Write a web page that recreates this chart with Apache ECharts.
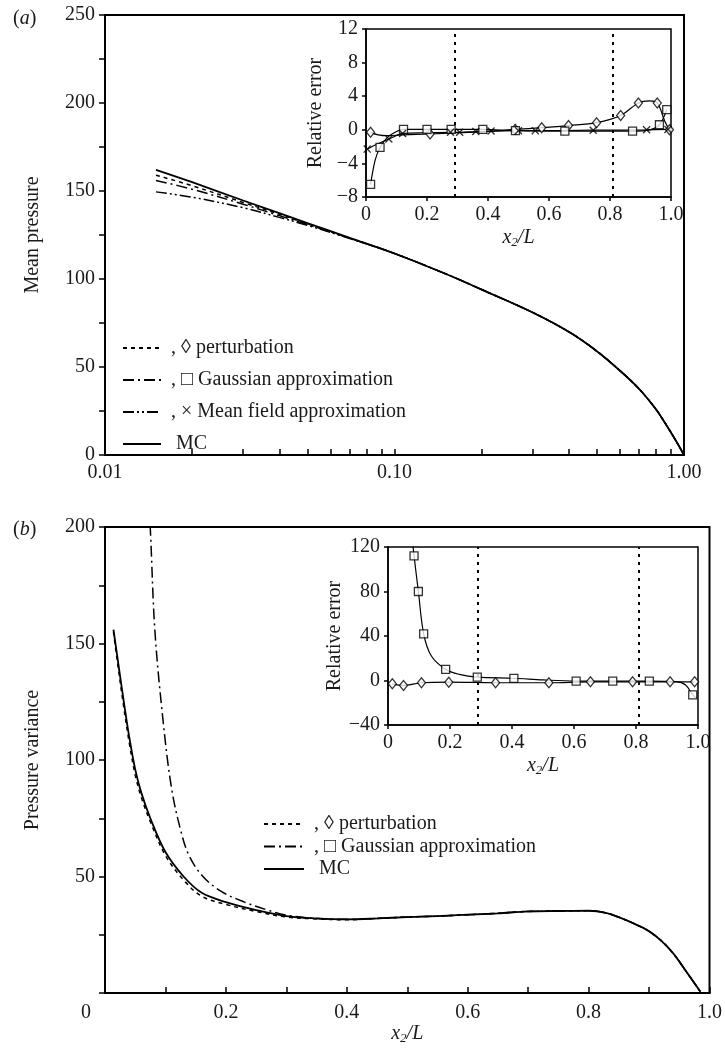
<!DOCTYPE html>
<html><head><meta charset="utf-8">
<script src="https://cdn.jsdelivr.net/npm/echarts@6/dist/echarts.min.js"></script>
<style>html,body{margin:0;padding:0;background:#fff}#c{width:725px;height:1052px}</style>
</head><body><div id="c"></div>
<script>
// ---------- names ----------
const PERT = ', \u25CA perturbation';
const GAUSS = ', \u25A1 Gaussian approximation';
const MEAN = ', \u00D7 Mean field approximation';
const MC = 'MC';

// ---------- panel (a): mean pressure vs x2/L (log x) ----------
const aX      = [0.015,0.02,0.03,0.04,0.05,0.07,0.1,0.155,0.2,0.3,0.4,0.5,0.6,0.7,0.8,0.85,0.9,0.95,1.0];
const aMC     = [162,155,144.6,137.4,131.8,123.4,114.5,102,94,81,70,59,48,37.5,26,19.5,13,6.5,0];
const aPert   = [159,153,143.5,136.8,131.4,123.3,114.5,102,94,81,70,59,48,37.5,26,19.5,13,6.5,0];
const aGauss  = [156,151,142.5,136,131,123.2,114.5,102,94,81,70,59,48,37.5,26,19.5,13,6.5,0];
const aMean   = [149.5,146.5,140.5,135,130.5,123,114.5,102,94,81,70,59,48,37.5,26,19.5,13,6.5,0];
const aTickVals = [0.01,0.02,0.03,0.04,0.05,0.06,0.07,0.08,0.09,0.1,0.2,0.3,0.4,0.5,0.6,0.7,0.8,0.9,1];

// inset (a): relative error
const iaPertCurveX = [0.015,0.04,0.07,0.12,0.21,0.3,0.4,0.489,0.576,0.664,0.756,0.835,0.893,0.93,0.955,0.98,0.995];
const iaPertCurveY = [-0.3,-0.6,-0.7,-0.6,-0.5,-0.35,-0.2,0.05,0.25,0.5,0.85,1.7,3.2,3.45,3.2,1.0,0];
const iaPertMarkX  = [0.015,0.21,0.489,0.576,0.664,0.756,0.835,0.893,0.955,0.995];
const iaPertMarkY  = [-0.3,-0.5,0.05,0.25,0.5,0.85,1.7,3.2,3.2,0];
const iaGaussCurveX = [0.015,0.03,0.046,0.07,0.1,0.123,0.2,0.279,0.383,0.49,0.652,0.874,0.93,0.962,0.986];
const iaGaussCurveY = [-6.5,-3.6,-2.1,-0.9,-0.2,0.05,0.05,0.05,0.05,-0.1,-0.15,-0.15,0.0,0.6,2.4];
const iaGaussMarkX  = [0.015,0.046,0.123,0.2,0.279,0.383,0.49,0.652,0.874,0.962,0.986];
const iaGaussMarkY  = [-6.5,-2.1,0.05,0.05,0.05,0.05,-0.1,-0.15,-0.15,0.6,2.4];
const iaMeanCurveX = [0.004,0.03,0.075,0.12,0.2,0.277,0.307,0.36,0.41,0.5,0.555,0.745,0.92,0.99];
const iaMeanCurveY = [-2.3,-1.8,-1.1,-0.45,-0.35,-0.3,-0.3,-0.2,-0.15,-0.1,-0.1,-0.05,0,0.05];
const iaMeanMarkX  = [0.004,0.075,0.12,0.277,0.307,0.36,0.41,0.5,0.555,0.745,0.92,0.99];
const iaMeanMarkY  = [-2.3,-1.1,-0.45,-0.3,-0.3,-0.2,-0.15,-0.1,-0.1,-0.05,0,0.05];
const insetVLines = [0.295, 0.815];

// ---------- panel (b): pressure variance vs x2/L ----------
const bX    = [0.014,0.02,0.03,0.04,0.05,0.06,0.075,0.1,0.13,0.16,0.2,0.25,0.3,0.35,0.4,0.45,0.5,0.55,0.6,0.65,0.7,0.75,0.8,0.83,0.855,0.88,0.9,0.92,0.94,0.96,0.985];
const bMC   = [156,145,127,110,96,86,75,60.5,50,43,39,35.6,33,32,31.6,32,32.6,33,33.6,34.2,35,35.2,35.3,34.3,32,29.2,26.5,22.5,17,9.8,0.5];
const bPert = [155,143,124.5,107.5,93.5,84,73.5,59,48.5,41.5,38,35,32.6,31.8,31.4,32,32.6,33,33.6,34.2,35,35.2,35.3,34.3,32,29.2,26.5,22.5,17,9.8,0.5];
const bGaussX = [0.072,0.075,0.0824,0.096,0.11,0.125,0.139,0.162,0.193,0.231,0.269,0.3,0.35,0.4,0.45,0.5,0.55,0.6,0.65,0.7,0.75,0.8,0.83,0.855,0.88,0.9,0.92,0.94,0.96,0.985];
const bGauss  = [210,199,156,117,88,70,59,50,43.5,39,35.6,33.4,32,31.6,32,32.6,33,33.6,34.2,35,35.2,35.3,34.3,32,29.2,26.5,22.5,17,9.8,0.5];

// inset (b)
const ibGaussCurveX = [0.079,0.084,0.098,0.115,0.14,0.186,0.23,0.288,0.406,0.5,0.607,0.725,0.843,0.93,0.96,0.983,0.995];
const ibGaussCurveY = [125,112,80,42,22,10,5.5,3,2,0.5,-0.5,-0.5,-0.5,-1,-4,-13,-16];
const ibGaussMarkX  = [0.084,0.098,0.115,0.186,0.288,0.406,0.607,0.725,0.843,0.983];
const ibGaussMarkY  = [112,80,42,10,3,2,-0.5,-0.5,-0.5,-13];
const ibPertCurveX = [0.014,0.05,0.108,0.196,0.347,0.519,0.653,0.789,0.91,0.989];
const ibPertCurveY = [-3,-4.5,-2,-1.5,-2,-2,-1.2,-1.2,-1.2,-1.2];
const ibPertMarkX  = ibPertCurveX;
const ibPertMarkY  = ibPertCurveY;

// ---------- helpers ----------
const zip = (xs, ys) => xs.map((x, i) => [x, ys[i]]);
const F = 'Liberation Serif';
const TXT = '#1a1a1a';
const tstyle = (sz) => ({fontFamily: F, fontSize: sz, color: TXT});
const x2L = '{i|x}{s|2}{i|/L}';
const x2Lrich = {
  i: {fontFamily: F, fontSize: 20, fontStyle: 'italic', color: TXT, lineHeight: 22},
  s: {fontFamily: F, fontSize: 13, fontStyle: 'italic', color: TXT, lineHeight: 8, verticalAlign: 'bottom'}
};
const minus = v => (v < 0 ? '\u2212' + Math.abs(v) : String(v));
const axLine = w => ({show: true, onZero: false, lineStyle: {color: '#000', width: w}});
const tickLS = {color: '#000', width: 1.5};

const DASH_PERT = [4, 4];
const DASH_GAUSS = [11, 4, 2, 4];
const DASH_MEAN = [11, 3, 2, 3, 2, 3];

function mainLine(name, data, xi, dash, w) {
  return {
    type: 'line', name, xAxisIndex: xi, yAxisIndex: xi, data,
    smooth: 0.35, symbol: 'none', showSymbol: false, silent: true,
    lineStyle: {color: '#000', width: w || 1.5, type: dash || 'solid'},
    itemStyle: {color: '#000'}, z: dash ? 3 : 4
  };
}
function curve(data, xi, markLineVals) {
  const s = {
    type: 'line', name: 'curve', xAxisIndex: xi, yAxisIndex: xi, data,
    smooth: 0.35, symbol: 'none', showSymbol: false, silent: true,
    lineStyle: {color: '#000', width: 1.2}, z: 5
  };
  if (markLineVals) {
    s.markLine = {
      silent: true, symbol: ['none', 'none'], label: {show: false},
      lineStyle: {type: [3, 5], color: '#000', width: 2},
      data: markLineVals.map(v => ({xAxis: v}))
    };
  }
  return s;
}
const CROSS = 'path://M0,1.2L1.2,0L5,3.8L8.8,0L10,1.2L6.2,5L10,8.8L8.8,10L5,6.2L1.2,10L0,8.8L3.8,5Z';
function marks(data, xi, kind) {
  let symbol = 'rect', size = 8, item = {color: '#fff', borderColor: '#000', borderWidth: 1.3};
  if (kind === 'diamond') { symbol = 'diamond'; size = [8, 10]; }
  if (kind === 'cross') { symbol = CROSS; size = 8; item = {color: '#000', borderWidth: 0}; }
  return {type: 'scatter', name: 'marks', xAxisIndex: xi, yAxisIndex: xi, data,
    symbol, symbolSize: size, itemStyle: item, silent: true, z: 6};
}

const insetX = (gi) => ({
  type: 'value', gridIndex: gi, min: 0, max: 1, interval: 0.2,
  axisLine: axLine(1.5), axisTick: {show: true, length: 4, lineStyle: tickLS},
  axisLabel: Object.assign({margin: 8, formatter: v => (v === 0 ? '0' : v.toFixed(1))}, tstyle(20)),
  splitLine: {show: false},
  name: x2L, nameLocation: 'middle', nameGap: 30, nameTextStyle: {rich: x2Lrich}
});
const insetY = (gi, mn, mx, iv) => ({
  type: 'value', gridIndex: gi, min: mn, max: mx, interval: iv,
  axisLine: axLine(1.5), axisTick: {show: true, length: 4, lineStyle: tickLS},
  axisLabel: Object.assign({margin: 8, formatter: minus}, tstyle(20)),
  splitLine: {show: false},
  name: 'Relative error', nameLocation: 'middle', nameGap: 40, nameTextStyle: tstyle(20)
});

const legendCommon = {
  orient: 'vertical', itemHeight: 14, selectedMode: false,
  itemStyle: {opacity: 0},
  textStyle: Object.assign({lineHeight: 20}, tstyle(20)),
  formatter: n => (n === MC ? '  MC' : ' ' + n)
};

const option = {
  animation: false,
  backgroundColor: '#fff',
  title: [
    {text: '({a|a})', left: 8, top: 4, textStyle: Object.assign({fontWeight: 'normal', rich: {a: {fontFamily: F, fontSize: 20, fontStyle: 'italic', color: TXT}}}, tstyle(20))},
    {text: '({a|b})', left: 8, top: 515, textStyle: Object.assign({fontWeight: 'normal', rich: {a: {fontFamily: F, fontSize: 20, fontStyle: 'italic', color: TXT}}}, tstyle(20))}
  ],
  grid: [
    {left: 105, top: 15, width: 579, height: 440, show: true, borderColor: '#000', borderWidth: 2, backgroundColor: 'transparent'},
    {left: 366, top: 29, width: 305, height: 168, show: true, borderColor: '#000', borderWidth: 1.5, backgroundColor: '#fff'},
    {left: 105, top: 527, width: 607, height: 466, show: true, borderColor: '#000', borderWidth: 2, backgroundColor: 'transparent'},
    {left: 388, top: 547, width: 310, height: 178, show: true, borderColor: '#000', borderWidth: 1.5, backgroundColor: '#fff'}
  ],
  legend: [
    Object.assign({data: [PERT, GAUSS, MEAN, MC], left: 117, top: 333, itemWidth: 38, itemGap: 12}, legendCommon),
    Object.assign({data: [PERT, GAUSS, MC], left: 258, top: 809, itemWidth: 40, itemGap: 2.5}, legendCommon)
  ],
  xAxis: [
    {type: 'log', gridIndex: 0, min: 0.01, max: 1, logBase: 10,
     axisLine: axLine(2),
     axisTick: {show: true, inside: true, length: 6, lineStyle: tickLS, customValues: aTickVals},
     axisLabel: Object.assign({margin: 8, formatter: v => Number(v).toFixed(2)}, tstyle(20)),
     splitLine: {show: false}},
    insetX(1),
    {type: 'value', gridIndex: 2, min: 0, max: 1, interval: 0.2,
     axisLine: axLine(2),
     axisTick: {show: true, inside: true, length: 6, lineStyle: tickLS},
     minorTick: {show: true, splitNumber: 2, length: 6, lineStyle: tickLS},
     axisLabel: Object.assign({margin: 10,
       formatter: v => (v === 0 ? '{z|0}' : v.toFixed(1)),
       rich: {z: {fontFamily: F, fontSize: 20, color: TXT, padding: [0, 38, 0, 0]}}}, tstyle(20)),
     splitLine: {show: false}, minorSplitLine: {show: false},
     name: x2L, nameLocation: 'middle', nameGap: 30, nameTextStyle: {rich: x2Lrich}},
    insetX(3)
  ],
  yAxis: [
    {type: 'value', gridIndex: 0, min: 0, max: 250, interval: 50,
     axisLine: axLine(2),
     axisTick: {show: true, length: 6, lineStyle: tickLS},
     minorTick: {show: true, splitNumber: 2, length: 6, lineStyle: tickLS},
     axisLabel: Object.assign({margin: 10}, tstyle(20)),
     splitLine: {show: false}, minorSplitLine: {show: false},
     name: 'Mean pressure', nameLocation: 'middle', nameGap: 62, nameTextStyle: tstyle(20)},
    insetY(1, -8, 12, 4),
    {type: 'value', gridIndex: 2, min: 0, max: 200, interval: 50,
     axisLine: axLine(2),
     axisTick: {show: true, length: 6, lineStyle: tickLS},
     minorTick: {show: true, splitNumber: 2, length: 6, lineStyle: tickLS},
     axisLabel: Object.assign({margin: 10, formatter: v => (v === 0 ? '' : String(v))}, tstyle(20)),
     splitLine: {show: false}, minorSplitLine: {show: false},
     name: 'Pressure variance', nameLocation: 'middle', nameGap: 62, nameTextStyle: tstyle(20)},
    insetY(3, -40, 120, 40)
  ],
  series: [
    // panel (a)
    mainLine(PERT, zip(aX, aPert), 0, DASH_PERT),
    mainLine(GAUSS, zip(aX, aGauss), 0, DASH_GAUSS),
    mainLine(MEAN, zip(aX, aMean), 0, DASH_MEAN),
    mainLine(MC, zip(aX, aMC), 0, null, 1.8),
    // inset (a)
    curve(zip(iaPertCurveX, iaPertCurveY), 1, insetVLines),
    curve(zip(iaGaussCurveX, iaGaussCurveY), 1),
    curve(zip(iaMeanCurveX, iaMeanCurveY), 1),
    marks(zip(iaPertMarkX, iaPertMarkY), 1, 'diamond'),
    marks(zip(iaGaussMarkX, iaGaussMarkY), 1, 'rect'),
    marks(zip(iaMeanMarkX, iaMeanMarkY), 1, 'cross'),
    // panel (b)
    mainLine(PERT, zip(bX, bPert), 2, DASH_PERT),
    mainLine(GAUSS, zip(bGaussX, bGauss), 2, DASH_GAUSS),
    mainLine(MC, zip(bX, bMC), 2, null, 1.8),
    // inset (b)
    curve(zip(ibGaussCurveX, ibGaussCurveY), 3, insetVLines),
    curve(zip(ibPertCurveX, ibPertCurveY), 3),
    marks(zip(ibGaussMarkX, ibGaussMarkY), 3, 'rect'),
    marks(zip(ibPertMarkX, ibPertMarkY), 3, 'diamond')
  ]
};
const chart = echarts.init(document.getElementById('c'), null, {renderer: 'canvas'});
chart.setOption(option);
</script></body></html>
